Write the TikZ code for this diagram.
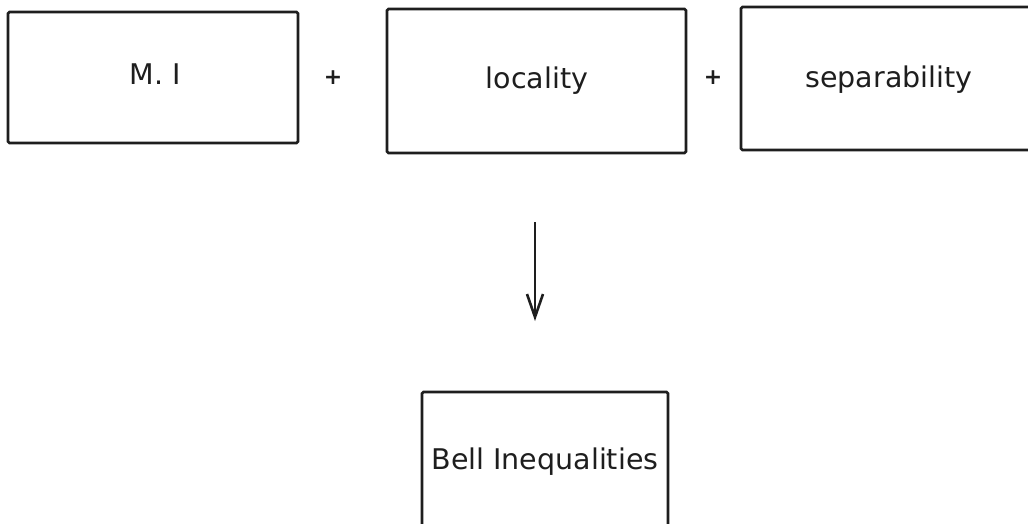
\documentclass[tikz,border=0pt]{standalone}
\usepackage{fontspec}
\setmainfont{DejaVu Sans}
\usetikzlibrary{arrows.meta}
\definecolor{ink}{HTML}{1E1E1E}
\tikzset{
  box/.style={draw=ink, line width=2.6pt, rectangle, rounded corners=1.5pt, inner sep=0pt},
  lbl/.style={text=ink, font=\fontsize{28.5}{34}\selectfont, anchor=base, inner sep=0pt},
  plus/.style={text=ink, font=\bfseries\fontsize{22}{26}\selectfont, anchor=base, inner sep=0pt},
  conn/.style={draw=ink, line width=2.6pt, -{Straight Barb[length=23pt,width=16pt,line width=2.6pt]}}
}
\begin{document}
\begin{tikzpicture}[x=1pt,y=-1pt]
\useasboundingbox (0,0) rectangle (1028,524);
\clip (0,0) rectangle (1028,524);
\fill[white] (0,0) rectangle (1028,524);
% boxes
\node[box, minimum width=290pt, minimum height=131pt] (mi) at (153,77.5) {};
\node[box, minimum width=299pt, minimum height=144pt] (loc) at (536.5,81) {};
\node[box, minimum width=294pt, minimum height=143pt] (sep) at (888,78.5) {};
\node[box, minimum width=246pt, minimum height=136pt] (bell) at (545,460) {};
% labels
\node[lbl] (mit) at (155,85) {M. I};
\node[lbl] (loct) at (537,89) {locality};
\node[lbl] (sept) at (889,88) {separability};
\node[lbl] (bellt) at (545,469) {Bell Inequalities};
% plus signs
\node[plus] (p1) at (333,85) {+};
\node[plus] (p2) at (713,85) {+};
% arrow
\coordinate (a1) at (535,222);
\coordinate (a2) at (535,321);
\draw[conn] (a1) -- (a2);
\end{tikzpicture}
\end{document}
